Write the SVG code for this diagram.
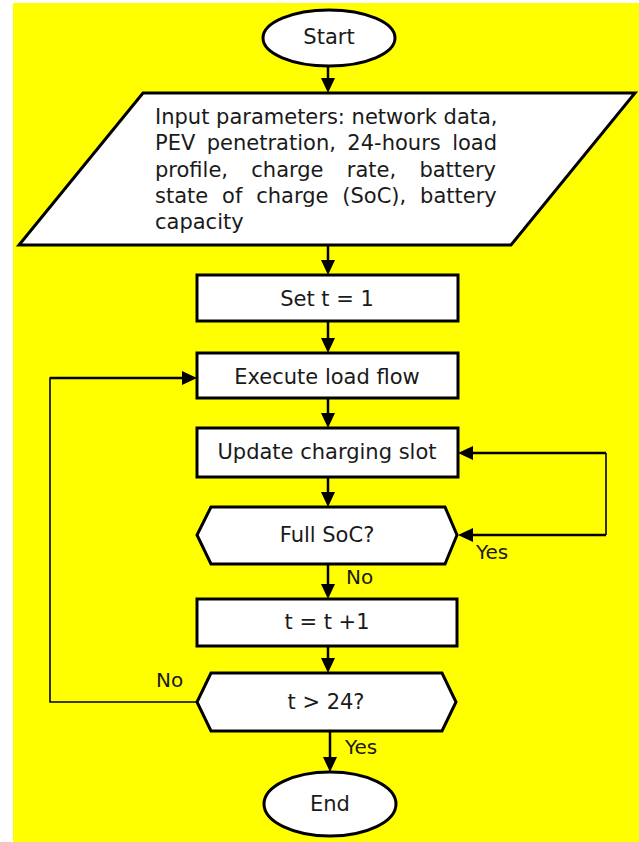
<svg xmlns="http://www.w3.org/2000/svg" width="639" height="842" viewBox="0 0 639 842">
<style>
.shape{fill:#fff;stroke:#000;stroke-width:3;stroke-linejoin:miter}
.t{font-family:"DejaVu Sans","Liberation Sans",sans-serif;font-size:21px;fill:#1a1a1a;dominant-baseline:central}
.c{text-anchor:middle}
.lbl{font-family:"DejaVu Sans","Liberation Sans",sans-serif;font-size:20px;fill:#1a1a1a;dominant-baseline:central}
.con{fill:none;stroke:#000;stroke-width:2.5}
.thin{fill:none;stroke:#000;stroke-width:1.6}
</style>
<defs>
<marker id="ah" markerUnits="userSpaceOnUse" markerWidth="15" markerHeight="14" refX="7" refY="7" orient="auto" viewBox="0 0 15 14">
<path d="M0,0 L15,7 L0,14 z" fill="#000"/>
</marker>
</defs>
<rect x="13" y="3" width="626" height="839" fill="#ffff00"/>

<g id="connectors">
<line class="con" x1="328" y1="67" x2="328" y2="85" marker-end="url(#ah)"/>
<line class="con" x1="328" y1="245" x2="328" y2="267" marker-end="url(#ah)"/>
<line class="con" x1="328" y1="321" x2="328" y2="345" marker-end="url(#ah)"/>
<line class="con" x1="328" y1="398" x2="328" y2="420" marker-end="url(#ah)"/>
<line class="con" x1="328" y1="477" x2="328" y2="499" marker-end="url(#ah)"/>
<line class="con" x1="328" y1="564" x2="328" y2="591" marker-end="url(#ah)"/>
<line class="con" x1="328" y1="646" x2="328" y2="665" marker-end="url(#ah)"/>
<line class="con" x1="330" y1="731" x2="330" y2="764" marker-end="url(#ah)"/>
<polyline class="thin" points="606,453 606,535"/>
<line class="con" x1="606" y1="453" x2="466" y2="453" marker-end="url(#ah)"/>
<line class="con" x1="606" y1="535" x2="466" y2="535" marker-end="url(#ah)"/>
<polyline class="thin" points="197,702 50,702 50,378 150,378"/>
<line class="con" x1="50" y1="378" x2="189" y2="378" stroke-width="2" marker-end="url(#ah)"/>
<text class="lbl" x="476" y="552">Yes</text>
<text class="lbl" x="346" y="577">No</text>
<text class="lbl" x="156" y="680">No</text>
<text class="lbl" x="345" y="747">Yes</text>
</g>

<g id="start">
<ellipse class="shape" cx="329" cy="38" rx="66" ry="28"/>
<text class="t c" x="329" y="37">Start</text>
</g>

<g id="input">
<polygon class="shape" points="143,93 635,93 511,245 19,245"/>
<text class="t" x="155" y="117">Input parameters: network data,</text>
<text class="t" x="155" y="143" word-spacing="4.8">PEV penetration, 24-hours load</text>
<text class="t" x="155" y="170" word-spacing="16.6">profile, charge rate, battery</text>
<text class="t" x="155" y="196" word-spacing="7.2">state of charge (SoC), battery</text>
<text class="t" x="155" y="222">capacity</text>
</g>

<g id="set-t">
<rect class="shape" x="197" y="275" width="261" height="46"/>
<text class="t c" x="327" y="299">Set t = 1</text>
</g>

<g id="load-flow">
<rect class="shape" x="197" y="353" width="261" height="45"/>
<text class="t c" x="327" y="377">Execute load flow</text>
</g>

<g id="update-slot">
<rect class="shape" x="197" y="428" width="261" height="49"/>
<text class="t c" x="327" y="452">Update charging slot</text>
</g>

<g id="full-soc">
<polygon class="shape" points="211,507 445,507 457,535 445,564 211,564 197,535"/>
<text class="t c" x="327" y="535">Full SoC?</text>
</g>

<g id="increment">
<rect class="shape" x="197" y="599" width="260" height="47"/>
<text class="t c" x="327" y="622">t = t +1</text>
</g>

<g id="t-check">
<polygon class="shape" points="211,673 442,673 456,702 442,731 211,731 197,702"/>
<text class="t c" x="326" y="702">t &gt; 24?</text>
</g>

<g id="end">
<ellipse class="shape" cx="330" cy="804" rx="66" ry="32"/>
<text class="t c" x="330" y="804">End</text>
</g>
</svg>
